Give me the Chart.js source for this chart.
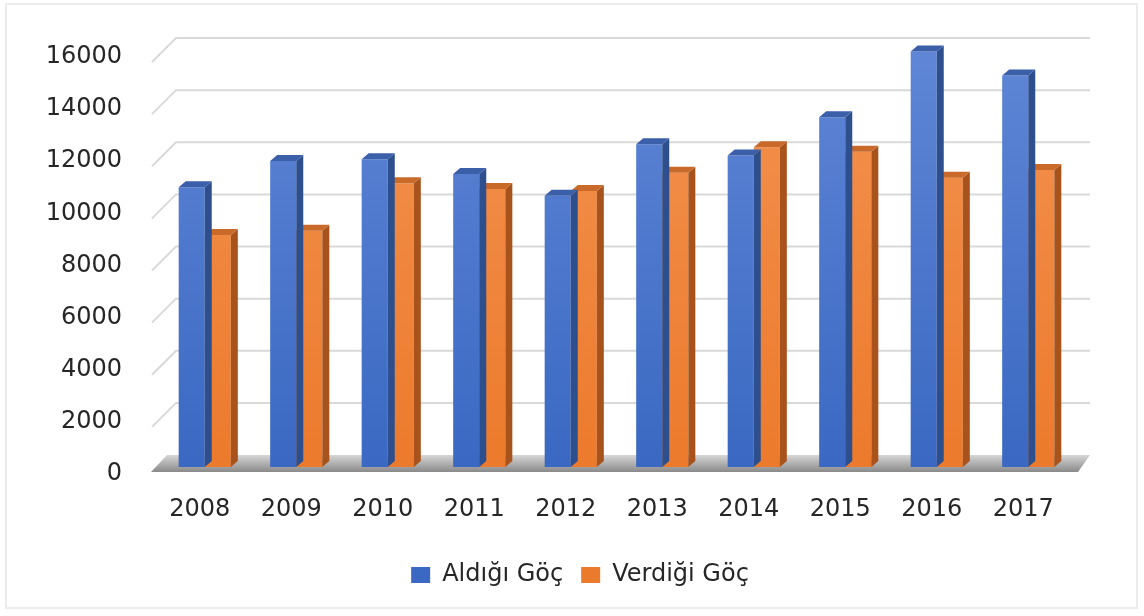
<!DOCTYPE html>
<html>
<head>
<meta charset="utf-8">
<script src="https://cdn.jsdelivr.net/npm/chart.js@4"></script>
<style>
  html, body { margin: 0; padding: 0; background: #fff; }
  #wrap { position: relative; width: 1144px; height: 616px; }
  #frame { position: absolute; left: 5px; top: 3px; right: 6px; bottom: 7px; border: 2px solid #ececec; pointer-events: none; }
</style>
</head>
<body>
<div id="wrap">
  <canvas id="chart" width="1144" height="616"></canvas>
  <div id="frame"></div>
</div>
<script>
// values
const years = ['2008', '2009', '2010', '2011', '2012', '2013', '2014', '2015', '2016', '2017'];
const aldigi = [10730, 11740, 11810, 11240, 10410, 12380, 11950, 13420, 15940, 15020];
const verdigi = [8900, 9060, 10890, 10670, 10590, 11290, 12270, 12100, 11100, 11400];
const yTicks = [0, 2000, 4000, 6000, 8000, 10000, 12000, 14000, 16000];

const DEPTH_X = 7, DEPTH_Y = 6;     // bar side depth
const WALL_Y = 12;                  // back wall offset from bar plane
const FONT = 'DejaVu Sans';

function frontGradient(top, bottom) {
  return function (c) {
    const area = c.chart.chartArea;
    if (!area) return top;
    const g = c.chart.ctx.createLinearGradient(0, area.top, 0, area.bottom);
    g.addColorStop(0, top);
    g.addColorStop(1, bottom);
    return g;
  };
}

const sideColors = [
  { side: '#2d4f8e', top: '#3b5fa9' },
  { side: '#a8531b', top: '#c96a2a' }
];

// back wall grid + floor + bar sides
const wallPlugin = {
  id: 'wall',
  afterLayout(chart) {
    // legend sits a bit right of centre in the reference
    chart.legend.left += 43;
    chart.legend.right += 43;
  },
  beforeDatasetsDraw(chart) {
    const { ctx, chartArea: a, scales: { y } } = chart;
    ctx.save();
    const y0 = y.getPixelForValue(0);
    const fg = ctx.createLinearGradient(0, y0 - WALL_Y, 0, y0 + 5);
    fg.addColorStop(0, '#d6d6d6');
    fg.addColorStop(1, '#8a8a8a');
    ctx.fillStyle = fg;
    ctx.beginPath();
    ctx.moveTo(a.left - 8, y0 + 5);
    ctx.lineTo(a.right + 4, y0 + 5);
    ctx.lineTo(a.right + 16, y0 - WALL_Y);
    ctx.lineTo(a.left + 8, y0 - WALL_Y);
    ctx.closePath();
    ctx.fill();
    ctx.strokeStyle = '#d9d9d9';
    ctx.lineWidth = 2;
    yTicks.forEach(v => {
      if (v === 0) return;
      const py = y.getPixelForValue(v);
      ctx.beginPath();
      ctx.moveTo(a.left - 7, py + WALL_Y);
      ctx.lineTo(a.left + 17, py - WALL_Y);
      ctx.lineTo(a.right + 16, py - WALL_Y);
      ctx.stroke();
    });
    ctx.restore();
  },
  afterDatasetDraw(chart, args) {
    const { ctx } = chart;
    const meta = chart.getDatasetMeta(args.index);
    const col = sideColors[args.index];
    ctx.save();
    meta.data.forEach(bar => {
      const p = bar.getProps(['x', 'y', 'base', 'width'], true);
      const l = p.x - p.width / 2, r = p.x + p.width / 2;
      ctx.fillStyle = col.side;
      ctx.beginPath();
      ctx.moveTo(r, p.y);
      ctx.lineTo(r + DEPTH_X, p.y - DEPTH_Y);
      ctx.lineTo(r + DEPTH_X, p.base - DEPTH_Y);
      ctx.lineTo(r, p.base);
      ctx.closePath();
      ctx.fill();
      ctx.fillStyle = col.top;
      ctx.beginPath();
      ctx.moveTo(l, p.y);
      ctx.lineTo(l + DEPTH_X, p.y - DEPTH_Y);
      ctx.lineTo(r + DEPTH_X, p.y - DEPTH_Y);
      ctx.lineTo(r, p.y);
      ctx.closePath();
      ctx.fill();
    });
    ctx.restore();
  }
};

new Chart(document.getElementById('chart'), {
  type: 'bar',
  data: {
    labels: years,
    datasets: [
      { label: 'Aldığı Göç', data: aldigi, backgroundColor: frontGradient('#5f86d6', '#3a68c2'), borderWidth: 0 },
      { label: 'Verdiği Göç', data: verdigi, backgroundColor: frontGradient('#f3924f', '#ec7a2c'), borderWidth: 0 }
    ]
  },
  options: {
    responsive: false,
    animation: false,
    datasets: { bar: { categoryPercentage: 0.57, barPercentage: 1.0 } },
    layout: { padding: { top: 50, right: 70, left: 0, bottom: 19 } },
    scales: {
      x: {
        grid: { display: false },
        border: { display: false },
        ticks: { color: '#262626', font: { family: FONT, size: 24 }, padding: 20, labelOffset: -5 },
        afterFit(s) { s.height = 78; }
      },
      y: {
        min: 0, max: 16000,
        afterBuildTicks(s) { s.ticks = yTicks.map(v => ({ value: v })); },
        grid: { display: false },
        border: { display: false },
        ticks: {
          color: '#262626', font: { family: FONT, size: 24 }, padding: 29, labelOffset: 7,
          callback: v => String(v)
        },
        afterFit(s) { s.width = 159; }
      }
    },
    plugins: {
      legend: {
        position: 'bottom',
        labels: {
          color: '#262626',
          font: { family: FONT, size: 24 },
          boxWidth: 19, boxHeight: 16,
          padding: 18
        }
      },
      tooltip: { enabled: false }
    }
  },
  plugins: [wallPlugin]
});
</script>
</body>
</html>
